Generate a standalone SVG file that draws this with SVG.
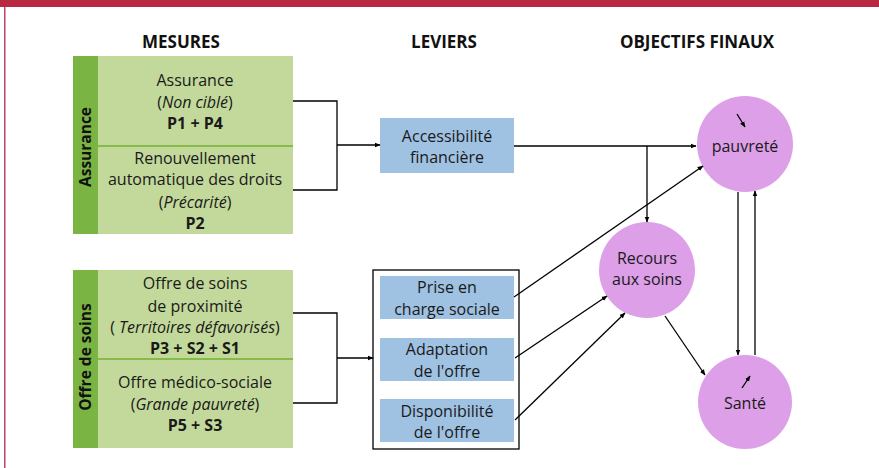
<svg xmlns="http://www.w3.org/2000/svg" width="879" height="468" viewBox="0 0 879 468">
<style>
text{font-family:"Open Sans","Noto Sans","Liberation Sans",sans-serif;fill:#1a1a1a;}
.hd{font-size:17px;font-weight:bold;text-anchor:middle;fill:#111;}
.t{font-size:16px;text-anchor:middle;}
.b{font-weight:bold;}
.i{font-style:italic;}
.vl{font-size:15.5px;font-weight:bold;text-anchor:middle;fill:#111;}
.lite{fill:#c2d99b;}
.dark{fill:#7ab544;}
.div{stroke:#86bb4c;stroke-width:2;}
.lev{fill:#9fc1e2;}
.obj{fill:#dc9fe8;}
.c{fill:none;stroke:#000;stroke-width:1.3;}
</style>
<defs>
<marker id="ah" viewBox="0 0 10 10" refX="9" refY="5" markerWidth="6" markerHeight="6" markerUnits="userSpaceOnUse" orient="auto">
<path d="M0,1 L10,5 L0,9 z" fill="#000"/>
</marker>
</defs>
<rect x="0" y="0" width="879" height="7" fill="#b82842"/>
<rect x="4" y="7" width="1.5" height="461" fill="#c0476a"/>

<text class="hd" x="181" y="48">MESURES</text>
<text class="hd" x="444" y="48">LEVIERS</text>
<text class="hd" x="697" y="48">OBJECTIFS FINAUX</text>

<g id="mesures-assurance">
<rect class="lite" x="97" y="56" width="196" height="178"/>
<rect class="dark" x="73" y="56" width="25" height="178"/>
<line class="div" x1="98" y1="146" x2="293" y2="146"/>
<text class="vl" transform="translate(91,147) rotate(-90)">Assurance</text>
<text class="t" x="195" y="86">Assurance</text>
<text class="t" x="195" y="108">(<tspan class="i">Non ciblé</tspan>)</text>
<text class="t b" x="195" y="129">P1 + P4</text>
<text class="t" x="195" y="164">Renouvellement</text>
<text class="t" x="195" y="185">automatique des droits</text>
<text class="t" x="195" y="208">(<tspan class="i">Précarité</tspan>)</text>
<text class="t b" x="195" y="229">P2</text>
</g>

<g id="mesures-offre">
<rect class="lite" x="97" y="270" width="196" height="178"/>
<rect class="dark" x="73" y="270" width="25" height="178"/>
<line class="div" x1="98" y1="359" x2="293" y2="359"/>
<text class="vl" transform="translate(91,357) rotate(-90)">Offre de soins</text>
<text class="t" x="195" y="289">Offre de soins</text>
<text class="t" x="195" y="312">de proximité</text>
<text class="t" x="195" y="333">( <tspan class="i">Territoires défavorisés</tspan>)</text>
<text class="t b" x="195" y="354">P3 + S2 + S1</text>
<text class="t" x="195" y="388">Offre médico-sociale</text>
<text class="t" x="195" y="410">(<tspan class="i">Grande pauvreté</tspan>)</text>
<text class="t b" x="195" y="431">P5 + S3</text>
</g>

<g id="levier-accessibilite">
<rect class="lev" x="380" y="118" width="134" height="55"/>
<text class="t" x="447" y="142">Accessibilité</text>
<text class="t" x="447" y="163">financière</text>
</g>

<g id="leviers-offre">
<rect x="373" y="270" width="146" height="179" fill="#fff" stroke="#000" stroke-width="1.3"/>
<g id="levier-prise">
<rect class="lev" x="380" y="276" width="134" height="43"/>
<text class="t" x="447" y="293">Prise en</text>
<text class="t" x="447" y="315">charge sociale</text>
</g>
<g id="levier-adaptation">
<rect class="lev" x="380" y="338" width="134" height="43"/>
<text class="t" x="447" y="355">Adaptation</text>
<text class="t" x="447" y="377">de l'offre</text>
</g>
<g id="levier-disponibilite">
<rect class="lev" x="380" y="399" width="134" height="43"/>
<text class="t" x="447" y="417">Disponibilité</text>
<text class="t" x="447" y="438">de l'offre</text>
</g>
</g>

<g id="obj-pauvrete">
<circle class="obj" cx="745" cy="144" r="48"/>
<line class="c" x1="737" y1="114" x2="745" y2="127" marker-end="url(#ah)"/>
<text class="t" x="745" y="152">pauvreté</text>
</g>
<g id="obj-recours">
<circle class="obj" cx="647" cy="270" r="48"/>
<text class="t" x="647" y="264">Recours</text>
<text class="t" x="647" y="285">aux soins</text>
</g>
<g id="obj-sante">
<circle class="obj" cx="745" cy="402" r="47"/>
<line class="c" x1="742" y1="388" x2="750" y2="376" marker-end="url(#ah)"/>
<text class="t" x="745" y="409">Santé</text>
</g>

<g id="connectors">
<polyline class="c" points="293,101 337,101 337,190 293,190"/>
<line class="c" x1="337" y1="145" x2="380" y2="145" marker-end="url(#ah)"/>
<polyline class="c" points="293,313 337,313 337,403 293,403"/>
<line class="c" x1="337" y1="358" x2="373" y2="358" marker-end="url(#ah)"/>
<line class="c" x1="514" y1="146" x2="696" y2="146" marker-end="url(#ah)"/>
<line class="c" x1="647" y1="146" x2="647" y2="222" marker-end="url(#ah)"/>
<line class="c" x1="514" y1="297" x2="703" y2="166" marker-end="url(#ah)"/>
<line class="c" x1="515" y1="358" x2="607" y2="296" marker-end="url(#ah)"/>
<line class="c" x1="515" y1="420" x2="625" y2="313" marker-end="url(#ah)"/>
<line class="c" x1="665" y1="316" x2="705" y2="375" marker-end="url(#ah)"/>
<line class="c" x1="738" y1="192" x2="738" y2="355" marker-end="url(#ah)"/>
<line class="c" x1="755" y1="355" x2="755" y2="191" marker-end="url(#ah)"/>
</g>
</svg>
